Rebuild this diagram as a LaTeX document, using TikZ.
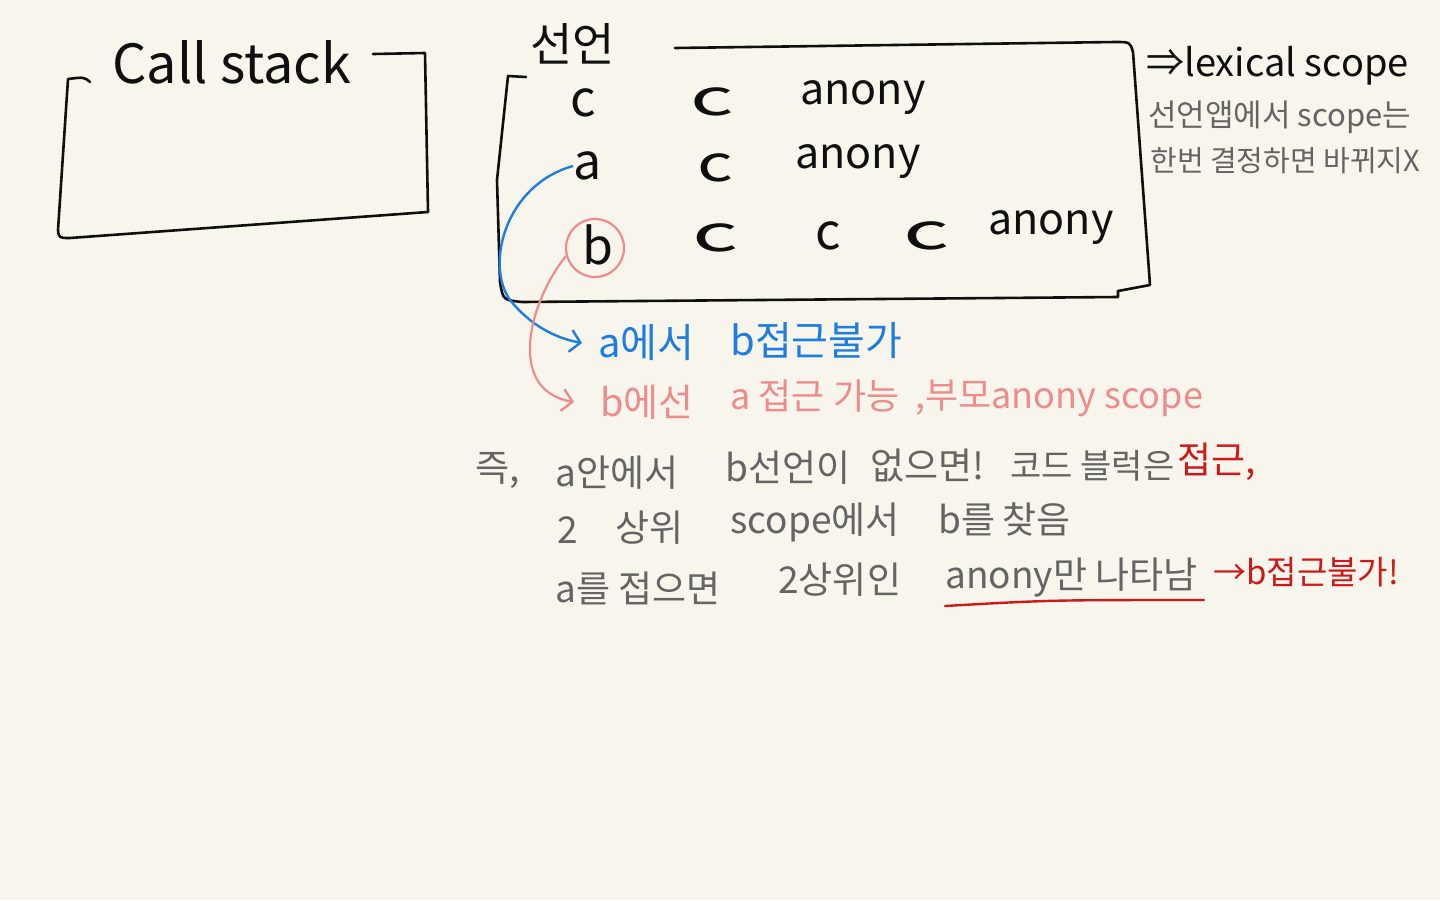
\documentclass[tikz,border=0pt]{standalone}
\usepackage{fontspec}
\usepackage{graphicx}
\setmainfont{Noto Sans CJK KR}
\usetikzlibrary{arrows.meta}
\definecolor{paper}{RGB}{248,246,236}
\definecolor{ink}{RGB}{15,15,15}
\definecolor{bluepen}{RGB}{30,125,225}
\definecolor{pinkpen}{RGB}{238,140,140}
\definecolor{graypen}{RGB}{100,100,100}
\definecolor{redpen}{RGB}{205,25,25}
\begin{document}
\begin{tikzpicture}[x=0.5pt,y=-0.5pt,
  pen/.style={line width=1.3pt, line cap=round, line join=round, draw=ink},
  hw/.style={inner sep=0pt, anchor=west, font=\fontsize{20}{24}\selectfont},
  rowtxt/.style={hw, text=ink, font=\fontsize{21.5}{26}\selectfont},
  note/.style={hw, text=graypen, font=\fontsize{18.5}{22}\selectfont},
  tip/.style={-{Straight Barb[length=5pt,width=11pt,line width=1.2pt]}}
]
\fill[paper] (0,0) rectangle (1440,900);
\useasboundingbox (0,0) rectangle (1440,900);

% Call stack
\node[hw, text=ink, font=\fontsize{27}{30}\selectfont] (cs) at (112,62) {Call stack};
\draw[pen] (90,82) .. controls (84,77) .. (68,79) -- (58,230) .. controls (59,238) .. (70,238) -- (428,212);
\draw[pen] (373,54) -- (425,53) -- (428,212);

% declaration box
\node[hw, text=ink, font=\fontsize{23}{26}\selectfont] (decl) at (530,44) {선언};
\draw[pen] (675,48) -- (1115,42) .. controls (1130,42) .. (1133,52) -- (1150,285) -- (1118,291);
\draw[pen] (526,77) -- (508,76) -- (497,180) -- (500,282) .. controls (503,300) .. (522,302) -- (1118,297) -- (1118,291);

% rows
\node[rowtxt, font=\fontsize{25}{28}\selectfont] (r1a) at (570,103) {c};
\node[rowtxt, font=\fontsize{25}{28}\selectfont] (r1b) at (690,102) {\scalebox{1.7}[1]{c}};
\node[rowtxt] (r1c) at (800,98) {anony};
\node[rowtxt, font=\fontsize{25}{28}\selectfont] (r2a) at (573,166) {a};
\node[rowtxt, font=\fontsize{25}{28}\selectfont] (r2b) at (697,168) {\scalebox{1.4}[1]{c}};
\node[rowtxt] (r2c) at (795,162) {anony};
\node[rowtxt, font=\fontsize{25}{28}\selectfont] (r3a) at (582,245) {b};
\node[rowtxt, font=\fontsize{25}{28}\selectfont] (r3b) at (692,238) {\scalebox{1.8}[1]{c}};
\node[rowtxt, font=\fontsize{25}{28}\selectfont] (r3c) at (815,236) {c};
\node[rowtxt, font=\fontsize{25}{28}\selectfont] (r3d) at (903,236) {\scalebox{1.8}[1]{c}};
\node[rowtxt] (r3e) at (988,228) {anony};
\draw[pinkpen, line width=1.1pt] (595,248) circle[radius=29];
\coordinate (bc) at (566,256);

% right notes
\node[hw, text=ink, font=\fontsize{19}{22}\selectfont] (lex) at (1146,66) {⇒lexical scope};
\node[note, font=\fontsize{15.5}{18}\selectfont] (n1) at (1148,117) {선언앱에서 scope는};
\node[note, font=\fontsize{14.5}{18}\selectfont] (n2) at (1150,161) {한번 결정하면 바뀌지X};

% blue / pink
\node[hw, text=bluepen] (bl1) at (598,343) {a에서};
\node[hw, text=bluepen] (bl2) at (730,340) {b접근불가};
\node[hw, text=pinkpen, font=\fontsize{19}{22}\selectfont] (pk1) at (600,402) {b에선};
\node[hw, text=pinkpen, font=\fontsize{18}{22}\selectfont] (pk2) at (730,396) {a 접근 가능};
\node[hw, text=pinkpen, font=\fontsize{18}{22}\selectfont] (pk3) at (915,398) {,부모anony scope};
\draw[bluepen, line width=1.2pt, tip] (r2a.west) .. controls (505,185) and (485,265) .. (510,300) .. controls (530,325) and (555,338) .. ([xshift=-8pt]bl1.west);
\draw[pinkpen, line width=1.1pt, tip] (bc) .. controls (530,300) and (505,390) .. ([xshift=-13pt]pk1.west);

% bottom notes
\node[note] (l1a) at (475,470) {즉,};
\node[note] (l1b) at (555,473) {a안에서};
\node[note] (l1c) at (725,468) {b선언이};
\node[note] (l1d) at (870,466) {없으면!};
\node[note, font=\fontsize{17}{20}\selectfont] (l1e) at (1010,466) {코드 블럭은};
\node[hw, text=redpen, font=\fontsize{18.5}{22}\selectfont] (l1f) at (1177,462) {접근,};

\node[note] (l2a) at (557,530) {2};
\node[note] (l2b) at (615,528) {상위};
\node[note] (l2c) at (730,522) {scope에서};
\node[note] (l2d) at (938,520) {b를};
\node[note] (l2e) at (1002,520) {찾음};

\node[note] (l3a) at (555,588) {a를 접으면};
\node[note] (l3b) at (778,580) {2상위인};
\node[note] (l3c) at (945,578) {anony만 나타남};
\node[hw, text=redpen, font=\fontsize{16.5}{20}\selectfont] (l3d) at (1213,572) {→b접근불가!};
\coordinate (ul1) at (945,606);
\coordinate (ul2) at (1204,600);
\draw[redpen, line width=1.2pt, line cap=round] (ul1) .. controls (1050,600) .. (ul2);
\end{tikzpicture}
\end{document}
